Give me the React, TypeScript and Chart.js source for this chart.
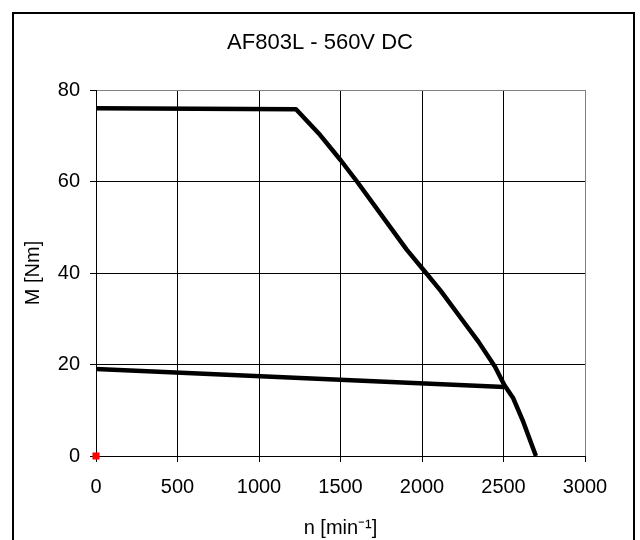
import React, { useEffect, useRef } from "react";
import { Chart, registerables } from "chart.js";

Chart.register(...registerables);

const chartTitle = "AF803L - 560V DC";
const xTitle = "n [min⁻¹]";
const yTitle = "M [Nm]";

// Upper curve (peak torque)
const peakSpeed = [0, 1227, 1374, 1500, 1601, 1906, 2025, 2115, 2254, 2346, 2448, 2505, 2560, 2621, 2699];
const peakTorque = [76, 75.8, 70.2, 64.7, 60, 45.1, 40, 36.1, 29.4, 25, 19.5, 15.5, 12.6, 7.5, 0];

// Lower line (continuous torque)
const contSpeed = [0, 2505];
const contTorque = [19, 15.1];

// Marker at origin
const markSpeed = [0];
const markTorque = [0];

const xMin = 0, xMax = 3000, xStep = 500;
const yMin = 0, yMax = 80, yStep = 20;

const FONT = "'Liberation Sans', Arial, sans-serif";

function toPoints(xs: number[], ys: number[]) {
  return xs.map((x, i) => ({ x, y: ys[i] }));
}

export default function App() {
  const ref = useRef<HTMLCanvasElement | null>(null);

  useEffect(() => {
    if (!ref.current) return;
    const chart = new Chart(ref.current, {
      type: "scatter",
      data: {
        datasets: [
          {
            data: toPoints(peakSpeed, peakTorque),
            showLine: true,
            borderColor: "#000",
            borderWidth: 4.5,
            pointRadius: 0,
            tension: 0,
            borderJoinStyle: "round",
          },
          {
            data: toPoints(contSpeed, contTorque),
            showLine: true,
            borderColor: "#000",
            borderWidth: 4.5,
            pointRadius: 0,
            tension: 0,
            borderJoinStyle: "round",
          },
          {
            data: toPoints(markSpeed, markTorque),
            showLine: false,
            pointStyle: "rect",
            pointRadius: 5,
            backgroundColor: "#ff0000",
            borderColor: "#ff0000",
            borderWidth: 0,
            clip: false,
          } as any,
        ],
      },
      options: {
        responsive: false,
        animation: false,
        layout: { padding: { left: 0, right: 0, top: 0, bottom: 0 } },
        plugins: {
          legend: { display: false },
          tooltip: { enabled: false },
          title: {
            display: true,
            text: chartTitle,
            color: "#000",
            font: { family: FONT, size: 22, weight: "normal" },
            padding: { top: 30, bottom: 33.6 },
          },
        },
        scales: {
          x: {
            type: "linear",
            min: xMin,
            max: xMax,
            ticks: {
              stepSize: xStep,
              color: "#000",
              font: { family: FONT, size: 20 },
              padding: 13,
              maxRotation: 0,
              callback: (v: any) => String(v),
            },
            grid: {
              color: (c: any) => (c.tick && c.tick.value === xMax ? "#808080" : "#000"),
              tickColor: "#000",
              tickLength: 6,
              lineWidth: 1,
            },
            border: { color: "#000", width: 1 },
            title: {
              display: true,
              text: xTitle,
              color: "#000",
              font: { family: FONT, size: 20 },
              padding: { top: 0, bottom: 0 },
            },
            afterFit: (s: any) => {
              s.height = 84;
            },
          },
          y: {
            type: "linear",
            min: yMin,
            max: yMax,
            ticks: {
              stepSize: yStep,
              color: "#000",
              font: { family: FONT, size: 20 },
              padding: 10,
              callback: (v: any) => String(v),
            },
            grid: {
              color: (c: any) => (c.tick && c.tick.value === yMax ? "#808080" : "#000"),
              tickColor: "#000",
              tickLength: 6,
              lineWidth: 1,
            },
            border: { color: "#000", width: 1 },
            title: {
              display: true,
              text: yTitle,
              color: "#000",
              font: { family: FONT, size: 20 },
              padding: { top: 21, bottom: 0 },
            },
            afterFit: (s: any) => {
              s.width = 96;
            },
          },
          yRight: {
            type: "linear",
            position: "right",
            min: yMin,
            max: yMax,
            ticks: { display: false },
            grid: { display: false, drawTicks: false },
            border: { display: false },
            afterFit: (s: any) => {
              s.width = 55;
            },
          },
        },
      } as any,
    });
    return () => chart.destroy();
  }, []);

  return (
    <div
      style={{
        position: "absolute",
        left: 0,
        top: 0,
        width: 640,
        height: 540,
        overflow: "hidden",
        background: "#fff",
      }}
    >
      <div
        style={{
          position: "absolute",
          left: 12,
          top: 12,
          width: 619,
          height: 560,
          borderLeft: "2px solid #000",
          borderTop: "2px solid #000",
          borderRight: "2px solid #000",
        }}
      />
      <canvas
        ref={ref}
        width={640}
        height={540}
        style={{ position: "absolute", left: 0, top: 0 }}
      />
    </div>
  );
}
